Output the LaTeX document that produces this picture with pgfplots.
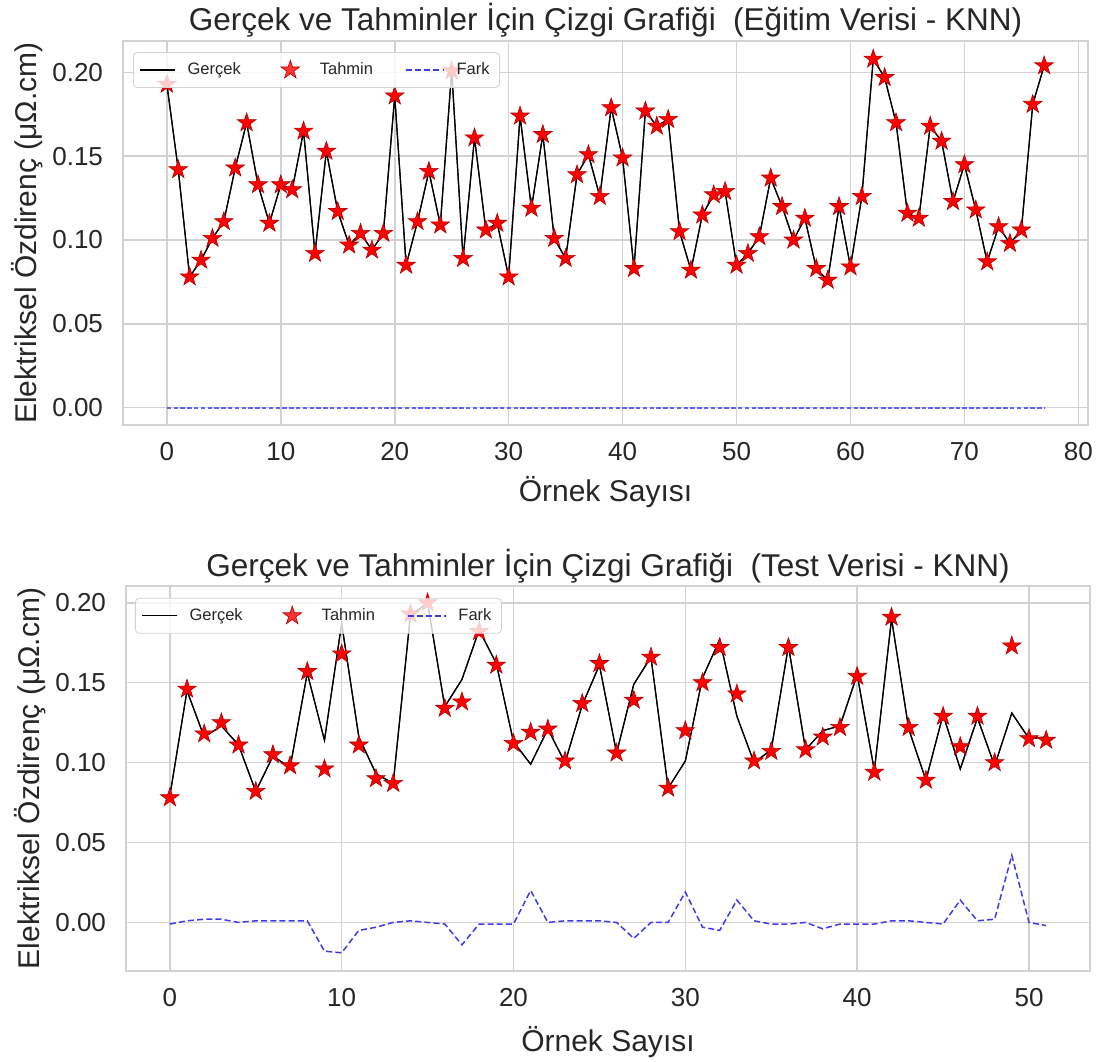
\documentclass[border=0pt]{standalone}
\usepackage{pgfplots}
\pgfplotsset{compat=1.18}
\usepackage{pgfplotstable}
\usepackage{fontspec}
\setmainfont{Liberation Sans}

\definecolor{farkc}{RGB}{60,60,235}
\definecolor{farkt}{RGB}{95,95,255}
\definecolor{gridc}{RGB}{210,210,210}
\definecolor{txtc}{RGB}{38,38,38}

\pgfdeclareplotmark{fstar}{%
  \pgfpathmoveto{\pgfpointpolar{90}{\pgfplotmarksize}}%
  \pgfpathlineto{\pgfpointpolar{126}{0.382\pgfplotmarksize}}%
  \pgfpathlineto{\pgfpointpolar{162}{\pgfplotmarksize}}%
  \pgfpathlineto{\pgfpointpolar{198}{0.382\pgfplotmarksize}}%
  \pgfpathlineto{\pgfpointpolar{234}{\pgfplotmarksize}}%
  \pgfpathlineto{\pgfpointpolar{270}{0.382\pgfplotmarksize}}%
  \pgfpathlineto{\pgfpointpolar{306}{\pgfplotmarksize}}%
  \pgfpathlineto{\pgfpointpolar{342}{0.382\pgfplotmarksize}}%
  \pgfpathlineto{\pgfpointpolar{18}{\pgfplotmarksize}}%
  \pgfpathlineto{\pgfpointpolar{54}{0.382\pgfplotmarksize}}%
  \pgfpathclose
  \pgfusepathqfillstroke
}

\pgfplotstableread{
x g t f
0 0.193 0.193 0
1 0.142 0.142 0
2 0.078 0.078 0
3 0.088 0.088 0
4 0.101 0.101 0
5 0.111 0.111 0
6 0.143 0.143 0
7 0.170 0.170 0
8 0.133 0.133 0
9 0.110 0.110 0
10 0.133 0.133 0
11 0.130 0.130 0
12 0.165 0.165 0
13 0.092 0.092 0
14 0.153 0.153 0
15 0.117 0.117 0
16 0.097 0.097 0
17 0.104 0.104 0
18 0.094 0.094 0
19 0.104 0.104 0
20 0.186 0.186 0
21 0.085 0.085 0
22 0.111 0.111 0
23 0.141 0.141 0
24 0.109 0.109 0
25 0.201 0.201 0
26 0.089 0.089 0
27 0.161 0.161 0
28 0.106 0.106 0
29 0.110 0.110 0
30 0.078 0.078 0
31 0.174 0.174 0
32 0.119 0.119 0
33 0.163 0.163 0
34 0.101 0.101 0
35 0.089 0.089 0
36 0.139 0.139 0
37 0.151 0.151 0
38 0.126 0.126 0
39 0.179 0.179 0
40 0.149 0.149 0
41 0.083 0.083 0
42 0.177 0.177 0
43 0.168 0.168 0
44 0.172 0.172 0
45 0.105 0.105 0
46 0.082 0.082 0
47 0.115 0.115 0
48 0.127 0.127 0
49 0.129 0.129 0
50 0.085 0.085 0
51 0.092 0.092 0
52 0.102 0.102 0
53 0.137 0.137 0
54 0.120 0.120 0
55 0.100 0.100 0
56 0.113 0.113 0
57 0.083 0.083 0
58 0.076 0.076 0
59 0.120 0.120 0
60 0.084 0.084 0
61 0.126 0.126 0
62 0.208 0.208 0
63 0.197 0.197 0
64 0.170 0.170 0
65 0.116 0.116 0
66 0.113 0.113 0
67 0.168 0.168 0
68 0.159 0.159 0
69 0.123 0.123 0
70 0.145 0.145 0
71 0.118 0.118 0
72 0.087 0.087 0
73 0.108 0.108 0
74 0.098 0.098 0
75 0.106 0.106 0
76 0.181 0.181 0
77 0.204 0.204 0
}\egitim

\pgfplotstableread{
x g t f
0 0.079 0.078 -0.001
1 0.145 0.146 0.001
2 0.116 0.118 0.002
3 0.123 0.125 0.002
4 0.111 0.111 0.000
5 0.082 0.082 0.001
6 0.104 0.105 0.001
7 0.097 0.098 0.001
8 0.156 0.157 0.001
9 0.114 0.096 -0.018
10 0.187 0.168 -0.019
11 0.116 0.111 -0.005
12 0.093 0.090 -0.003
13 0.087 0.087 0.000
14 0.192 0.193 0.001
15 0.200 0.200 0.000
16 0.135 0.134 -0.001
17 0.152 0.138 -0.014
18 0.183 0.182 -0.001
19 0.162 0.161 -0.001
20 0.113 0.112 -0.001
21 0.099 0.119 0.020
22 0.121 0.121 0.000
23 0.100 0.101 0.001
24 0.136 0.137 0.001
25 0.161 0.162 0.001
26 0.106 0.106 0.000
27 0.149 0.139 -0.010
28 0.166 0.166 0.000
29 0.084 0.084 0.000
30 0.101 0.120 0.019
31 0.153 0.150 -0.003
32 0.177 0.172 -0.005
33 0.129 0.143 0.014
34 0.100 0.101 0.001
35 0.108 0.107 -0.001
36 0.173 0.172 -0.001
37 0.108 0.108 0.000
38 0.120 0.116 -0.004
39 0.123 0.122 -0.001
40 0.155 0.154 -0.001
41 0.095 0.094 -0.001
42 0.190 0.191 0.001
43 0.121 0.122 0.001
44 0.089 0.089 0.000
45 0.130 0.129 -0.001
46 0.096 0.110 0.014
47 0.128 0.129 0.001
48 0.098 0.100 0.002
49 0.131 0.173 0.042
50 0.115 0.115 0.000
51 0.116 0.114 -0.002
}\test

\pgfplotsset{
  myax/.style={
    scale only axis,
    axis line style={draw=gridc, line width=0.8pt},
    grid=major,
    major grid style={draw=gridc, line width=0.8pt},
    major tick length=0pt,
    tick style={draw=none},
    tick label style={font=\fontsize{13}{15}\selectfont, text=txtc},
    /pgf/number format/assume math mode=true,
    ytick={0,0.05,0.1,0.15,0.2},
    scaled y ticks=false,
    yticklabel style={/pgf/number format/fixed, /pgf/number format/fixed zerofill, /pgf/number format/precision=2, xshift=-6.5pt},
    xticklabel style={yshift=-5pt},
    every axis title shift=0pt,
    title style={font=\fontsize{15.75}{18}\selectfont, text=txtc, at={(axis description cs:0.5,1)}, anchor=base, yshift=5pt},
    every axis x label/.style={font=\fontsize{15}{18}\selectfont, text=txtc, at={(axis description cs:0.5,0)}, anchor=base, yshift=-38pt},
    every axis y label/.style={font=\fontsize{15}{18}\selectfont, text=txtc, at={(axis description cs:-0.0995,0.5)}, anchor=center, rotate=90},
    xlabel={Örnek Sayısı},
    ylabel={Elektriksel Özdirenç (μΩ.cm)},
    legend style={draw=gridc, fill=white, fill opacity=0.8, text opacity=1, rounded corners=2pt,
      font=\fontsize{8.25}{10}\selectfont, text=txtc, legend columns=3,
      /tikz/every odd column/.append style={column sep=4pt},
      /tikz/every even column/.append style={column sep=14pt},
      inner ysep=3pt, inner xsep=3pt},
  },
  gline/.style={black, line width=0.6pt, no markers},
  tstar/.style={only marks, mark=fstar, mark size=4.9pt, mark options={fill=red, draw=red!70!black, line width=0.3pt}},
  fline/.style={farkc, dashed, dash pattern=on 3pt off 1.6pt, line width=0.75pt, no markers},
  gleg/.style={legend image code/.code={\draw[black, line width=0.6pt] (0pt,0pt) -- (17.5pt,0pt);}},
  tleg/.style={legend image code/.code={\path[draw=none, fill=none] (0pt,-0.1pt) rectangle (17.5pt,0.1pt); \path[draw=none] plot[only marks, mark=fstar, mark size=4.9pt, mark options={fill=red, draw=red!70!black, line width=0.3pt}] coordinates {(8.75pt,0pt)};}},
  fleg/.style={legend image code/.code={\draw[farkc, dash pattern=on 3pt off 1.6pt, line width=0.75pt] (0pt,0pt) -- (19pt,0pt);}},
}

\begin{document}
\begin{tikzpicture}
\begin{axis}[myax,
  at={(61.5pt,318pt)}, anchor=south west,
  width=482.5pt, height=192pt,
  xmin=-3.85, xmax=80.85, ymin=-0.0104, ymax=0.2188,
  xtick={0,10,...,80},
  title={Gerçek ve Tahminler İçin Çizgi Grafiği\ \ (Eğitim Verisi - KNN)},
  legend style={at={(axis description cs:0.0104,0.971)}, anchor=north west},
]
\addplot[gline, gleg] table[x=x, y=g] {\egitim};
\addlegendentry{Gerçek}
\addplot[tstar, tleg] table[x=x, y=t] {\egitim};
\addlegendentry{Tahmin}
\addplot[fline, fleg, draw=farkt, line width=1pt, dash pattern=on 2.2pt off 1.2pt] table[x=x, y=f] {\egitim};
\addlegendentry{Fark}
\addplot[gline, forget plot] table[x=x, y=g] {\egitim};
\end{axis}

\begin{axis}[myax,
  at={(63pt,45pt)}, anchor=south west,
  width=482pt, height=192.5pt,
  xmin=-2.55, xmax=53.55, ymin=-0.0304, ymax=0.2105,
  xtick={0,10,...,50},
  every axis x label/.append style={yshift=-2pt},
  title={Gerçek ve Tahminler İçin Çizgi Grafiği\ \ (Test Verisi - KNN)},
  legend style={at={(axis description cs:0.0093,0.969)}, anchor=north west},
]
\addplot[gline, gleg] table[x=x, y=g] {\test};
\addlegendentry{Gerçek}
\addplot[tstar, tleg] table[x=x, y=t] {\test};
\addlegendentry{Tahmin}
\addplot[fline, fleg] table[x=x, y=f] {\test};
\addlegendentry{Fark}
\addplot[gline, forget plot] table[x=x, y=g] {\test};
\end{axis}
\pgfresetboundingbox
\path (0,0) rectangle (550.5pt,530.5pt);
\end{tikzpicture}
\end{document}
